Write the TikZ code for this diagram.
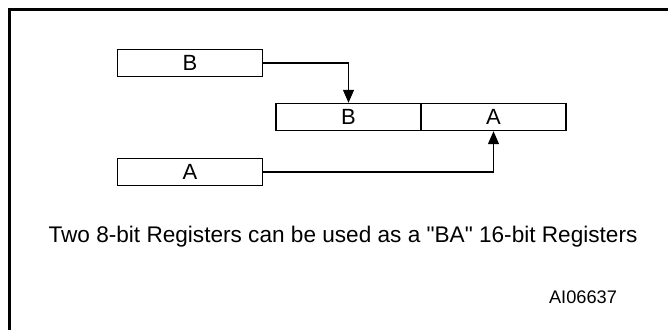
\documentclass[tikz,border=0pt]{standalone}
\usepackage{fontspec}
\setmainfont{Liberation Sans}
\usetikzlibrary{arrows.meta}

\begin{document}
\begin{tikzpicture}[x=0.5pt, y=-0.5pt,
    reg/.style={draw, line width=0.7pt, minimum width=72.5pt, minimum height=13.5pt,
                inner sep=0pt, font=\fontsize{11}{12}\selectfont},
    link/.style={line width=0.6pt, -{Triangle[length=6.5pt, width=5.5pt]}}]
    \useasboundingbox (0,0) rectangle (668,330);

    % Frame (cut at right and bottom)
    \draw[line width=1.5pt] (9,330) -- (9,9.5) -- (668,9.5);

    % Two 8-bit registers
    \node[reg] (regB) at (190,63) {B};
    \node[reg] (regA) at (190,172) {A};

    % The 16-bit pair
    \node[reg] (hiB) at (348.5,117) {B};
    \node[reg] (loA) at (493.5,117) {A};

    % Connections
    \draw[link] (regB.east) -| (hiB.north);
    \draw[link] (regA.east) -| (loA.south);

    % Caption
    \node[font=\fontsize{11.3}{13}\selectfont] (note) at (343,237)
        {Two 8-bit Registers can be used as a \textquotedbl BA\textquotedbl\ 16-bit Registers};
    \node[font=\fontsize{9.1}{11}\selectfont] (code) at (583,297) {AI06637};
\end{tikzpicture}
\end{document}
